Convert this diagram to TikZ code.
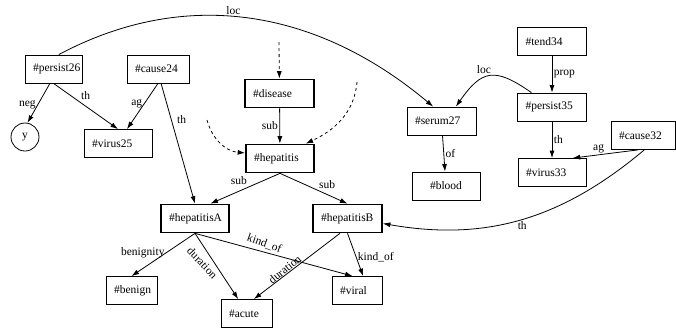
\documentclass[tikz,border=0pt]{standalone}
\usepackage{fontspec}
\setmainfont{Liberation Serif}
\usetikzlibrary{arrows.meta}

\tikzset{
  box/.style={draw, line width=0.8pt, minimum height=28pt, inner xsep=8pt,
    text width=#1, align=left},
  hub/.style={box=#1, line width=1.7pt},
  lab/.style={inner sep=1.5pt},
}

\begin{document}
\begin{tikzpicture}[x=1pt, y=1pt, >={Latex[length=7.5pt,width=5pt]},
  font=\fontsize{11.5}{13}\selectfont, line width=0.8pt]
  \useasboundingbox (0,0) rectangle (676,-330);

  \node[box=41pt] (persist26) at (53.5,-69) {\#persist26};
  \node[box=46pt] (cause24) at (158,-69) {\#cause24};
  \node[draw, circle, minimum size=28pt, inner sep=0pt] (ycirc) at (25,-137) {y};
  \node[box=52pt] (virus25) at (118,-143.5) {\#virus25};
  \node[hub=53pt] (disease) at (279.5,-93.5) {\#disease};
  \node[hub=52pt] (hepatitis) at (280,-158.5) {\#hepatitis};
  \node[box=53pt] (serum27) at (441.5,-121) {\#serum27};
  \node[box=52pt, align=center] (blood) at (446,-186) {\#blood};
  \node[box=53pt] (tend34) at (552,-41.5) {\#tend34};
  \node[box=53pt] (persist35) at (552,-107) {\#persist35};
  \node[box=52pt] (virus33) at (552,-172.5) {\#virus33};
  \node[box=48pt] (cause32) at (643,-135.5) {\#cause32};
  \node[hub=52pt] (hepatitisA) at (195,-218.5) {\#hepatitisA};
  \node[hub=53pt] (hepatitisB) at (347.5,-218.5) {\#hepatitisB};
  \node[box=35pt] (benign) at (131.5,-290.5) {\#benign};
  \node[box=35pt] (acute) at (246.5,-313.5) {\#acute};
  \node[box=34pt] (viral) at (357,-290.5) {\#viral};

  \coordinate (dtop) at (279,-42);
  \coordinate (dleft) at (207,-120);
  \coordinate (dright) at (357,-82);

  \path[->, dashed]
  (dtop) edge (disease)
  (dleft) edge [out=-75, in=175] (hepatitis.171)
  (dright) edge [out=-95, in=25] (hepatitis.30)
  ;

  \path[->]
  (persist26.70) edge [out=28, in=140] node [lab, pos=.45, above] {loc} (serum27.120)
  (persist26.256) edge node [lab, left, pos=.55] {neg} (ycirc.80)
  (persist26.south) edge node [lab, above right, pos=.4] {th} (virus25.north)
  (cause24.south) edge node [lab, left, pos=.45] {ag} (virus25.58)
  (cause24.-78) edge node [lab, right=4pt, pos=.3] {th} (hepatitisA.north)
  (disease) edge node [lab, left] {sub} (hepatitis)
  (hepatitis.south) edge node [lab, above left, pos=.45] {sub} (hepatitisA.44)
  (hepatitis.south) edge node [lab, above right, pos=.55] {sub} (hepatitisB.north)
  (hepatitisA.south) edge node [lab, left, pos=.45] {benignity} (benign.north)
  (hepatitisA.south) edge node [lab, pos=.45, xshift=-12pt, rotate=-47] {duration} (acute.120)
  (hepatitisA.south) edge node [lab, pos=.44, yshift=9pt, rotate=-20] {kind\_of} (viral.107)
  (hepatitisB.243) edge node [lab, pos=.64, yshift=6pt, rotate=39] {duration} (acute.63)
  (hepatitisB.south) edge node [lab, right, pos=.55] {kind\_of} (viral.67)
  (tend34) edge node [lab, right] {prop} (persist35)
  (persist35.145) edge [out=145, in=55, looseness=1.5] node [lab, above left, pos=.45] {loc} (serum27.45)
  (persist35) edge node [lab, right] {th} (virus33)
  (serum27) edge node [lab, right] {of} (blood)
  (cause32.250) edge node [lab, above, pos=.6] {ag} (virus33.35)
  (cause32.-85) edge [out=220, in=-10] node [lab, below, pos=.5] {th} (hepatitisB.-8)
  ;
\end{tikzpicture}
\end{document}
